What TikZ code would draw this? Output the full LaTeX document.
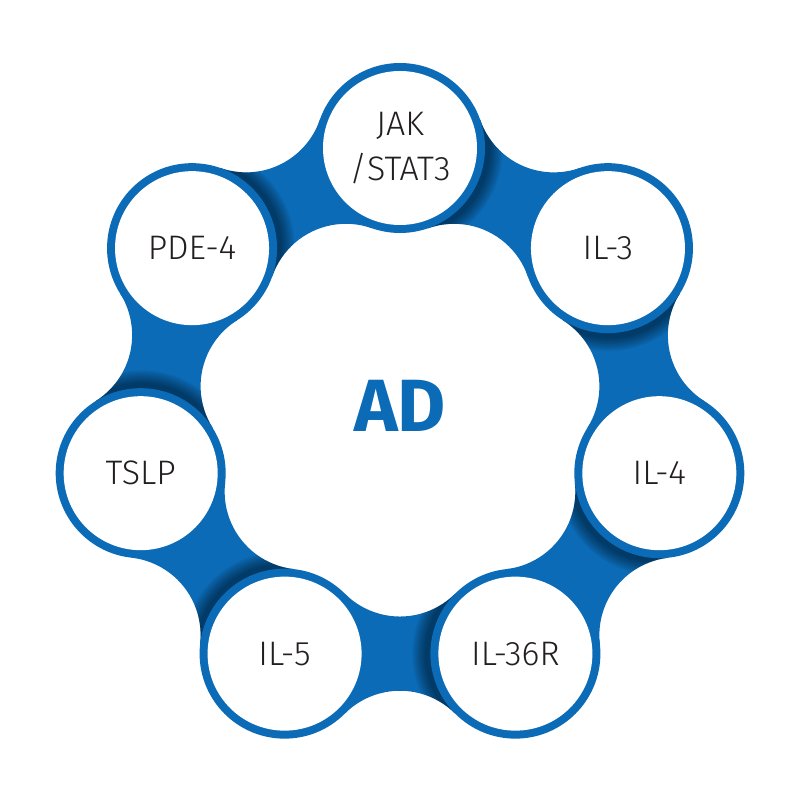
\documentclass[tikz,border=0pt]{standalone}
\usepackage{fontspec}
\setmainfont{Fira Sans Light}
\newfontfamily\adfont{Fira Sans Bold}
\usetikzlibrary{calc}
\definecolor{ringblue}{RGB}{12,107,182}
\definecolor{txt}{RGB}{35,31,32}
\tikzset{
  disk/.style={circle, fill=ringblue, minimum size=170pt, inner sep=0pt},
  hole/.style={circle, fill=white, minimum size=154pt, inner sep=0pt, align=center,
    text=txt, font=\fontsize{34}{45}\selectfont},
  shade/.style={black, opacity=0.05},
}
\begin{document}
\begin{tikzpicture}[x=1pt,y=1pt]
\useasboundingbox (-400,-386) rectangle (400,414);
\pgfmathsetmacro\Rr{266}
\pgfmathsetmacro\Rd{85}
\pgfmathsetmacro\rf{78}
\pgfmathsetmacro\dm{\Rr*cos(180/7)}
\pgfmathsetmacro\hd{\Rr*sin(180/7)}
\pgfmathsetmacro\hh{100*sqrt(((\Rd+\rf)/100)^2-(\hd/100)^2)}
\pgfmathsetmacro\ro{\dm+\hh}
\pgfmathsetmacro\ri{\dm-\hh}
\pgfmathsetmacro\bt{atan(\hd/\hh)}
\foreach \i in {0,...,6}{
  \pgfmathsetmacro\a{90-360/7*\i}
  \coordinate (c\i) at (\a:\Rr);
}
\foreach \i in {0,...,6}{
  \pgfmathtruncatemacro\j{mod(\i+1,7)}
  \pgfmathsetmacro\m{90-360/7*\i-180/7}
  \pgfmathsetmacro\oa{\m+180-\bt}
  \pgfmathsetmacro\ob{\m+180+\bt}
  \pgfmathsetmacro\ia{\m-\bt}
  \pgfmathsetmacro\ib{\m+\bt}
  \coordinate (fo\i) at (\m:\ro);
  \coordinate (fi\i) at (\m:\ri);
  \coordinate (to\i) at ($(fo\i)+(\oa:\rf)$);
  \coordinate (ti\i) at ($(fi\i)+(\ia:\rf)$);
  \coordinate (s\i) at ($(c\i)!4pt!(c\j)$);
  \begin{scope}
    \clip (to\i) arc[start angle=\oa, end angle=\ob, radius=\rf]
      -- (c\j) -- (ti\i) arc[start angle=\ia, end angle=\ib, radius=\rf]
      -- (c\i) -- cycle;
    \fill[ringblue] (c\i) -- (fo\i) -- (c\j) -- (fi\i) -- cycle;
    \foreach \k in {1,...,10}{
      \fill[shade] (s\i) circle[radius=\Rd+1.4*\k];
    }
  \end{scope}
}
\foreach \i/\lab in {0/{JAK\\/STAT3},1/{IL-3},2/{IL-4},3/{IL-36R},4/{IL-5},5/{TSLP},6/{PDE-4}}{
  \node[disk] (d\i) at (c\i) {};
  \node[hole] (t\i) at (c\i) {\lab};
}
\node[text=ringblue, font=\adfont\fontsize{74}{80}\selectfont, inner sep=0pt] (ad) at (0,8) {AD};
\end{tikzpicture}
\end{document}
